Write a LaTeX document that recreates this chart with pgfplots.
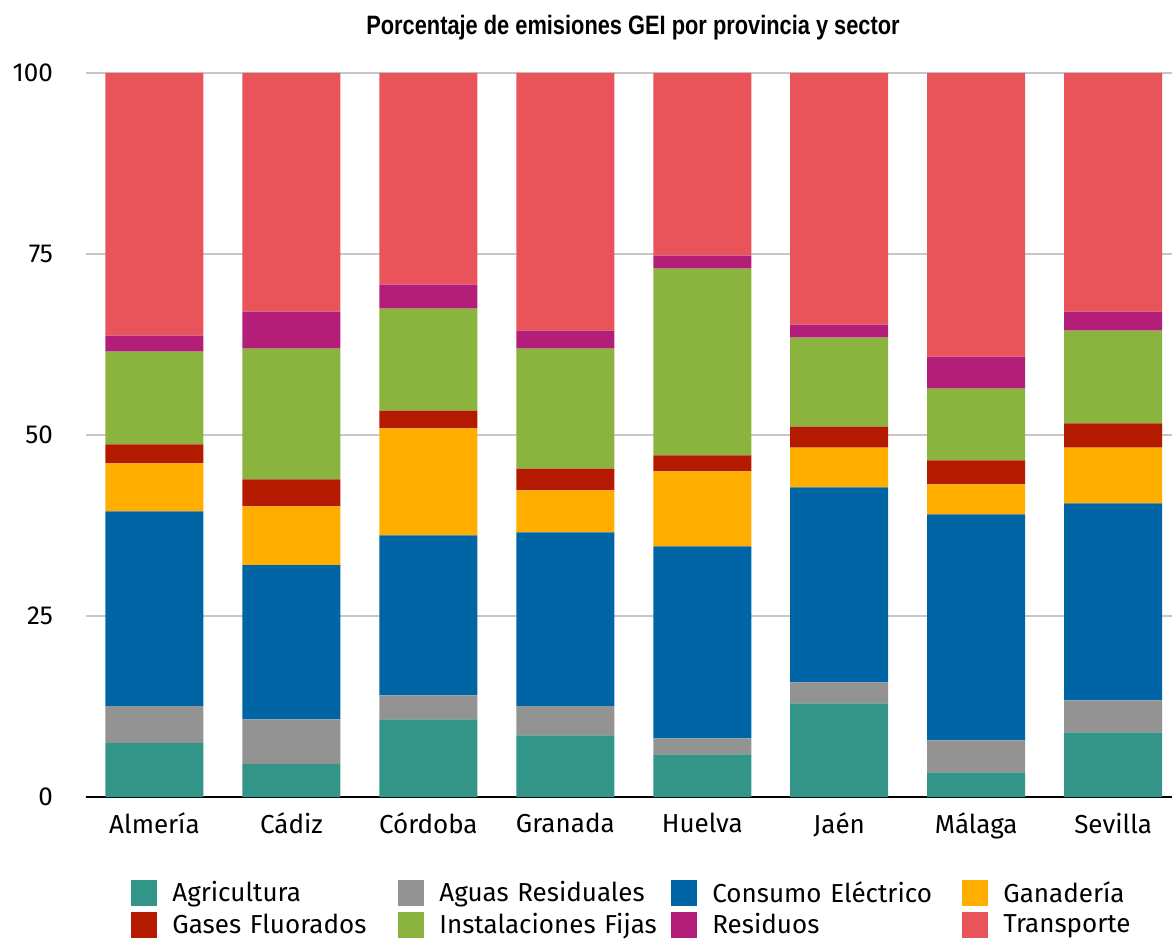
\documentclass[border=0pt]{standalone}
\usepackage{fontspec}
\setmainfont{Fira Sans}
\newfontfamily\titlefont[FakeStretch=0.82]{Liberation Sans}
\usepackage{pgfplots}
\usepackage{pgfplotstable}
\pgfplotsset{compat=1.18}

\definecolor{cAgri}{HTML}{339588}
\definecolor{cAguas}{HTML}{939393}
\definecolor{cCons}{HTML}{0065A4}
\definecolor{cGan}{HTML}{FFAE00}
\definecolor{cGases}{HTML}{B41A00}
\definecolor{cInst}{HTML}{8AB43E}
\definecolor{cRes}{HTML}{B21E78}
\definecolor{cTrans}{HTML}{E9545A}

\pgfplotstableread{
x Agri Aguas Cons Gan Gases Inst Res Trans
0 7.45 5.11 26.88 6.63 2.62 12.84 2.20 36.27
1 4.56 6.17 21.30 8.10 3.73 18.08 5.11 32.95
2 10.73 3.31 22.09 14.77 2.48 14.08 3.31 29.23
3 8.52 4.04 23.98 5.80 3.03 16.57 2.48 35.58
4 5.89 2.21 26.51 10.35 2.21 25.81 1.80 25.22
5 12.93 2.90 26.92 5.52 2.90 12.29 1.79 34.75
6 3.41 4.42 31.19 4.15 3.31 9.94 4.41 39.17
7 8.93 4.42 27.19 7.73 3.32 12.83 2.63 32.95
}\data

\pgfplotsset{sqlegend/.style={legend image code/.code={\fill[##1] (0pt,-6.5pt) rectangle (13pt,6.5pt);}}}

\begin{document}
\begin{tikzpicture}
\path[use as bounding box] (-43pt,-70.5pt) rectangle (543pt,398.5pt);
\begin{axis}[
  at={(0,0)}, anchor=south west,
  scale only axis, width=543pt, height=362pt,
  ybar stacked, bar width=49pt,
  xmin=-0.5, xmax=7.43, ymin=0, ymax=100,
  axis line style={draw=none},
  major tick length=0pt,
  ytick={0,25,50,75,100},
  xtick={0,1,2,3,4,5,6,7},
  xticklabels={Almería,Cádiz,Córdoba,Granada,Huelva,Jaén,Málaga,Sevilla},
  ymajorgrids, grid style={color=black!22, line width=0.8pt},
  /pgf/number format/assume math mode=true,
  ticklabel style={font=\fontsize{13}{15}\selectfont},
  yticklabel style={xshift=-13pt},
  xticklabel style={yshift=-4.5pt},
  legend columns=4,
  legend cell align=left,
  legend style={at={(0.04144,-0.1105)}, anchor=north west, draw=none, inner sep=0pt,
    font=\fontsize{13}{15}\selectfont,
    /tikz/every odd column/.append style={column sep=5.5pt},
    /tikz/column 2/.style={text width=111pt},
    /tikz/column 4/.style={text width=114pt},
    /tikz/column 6/.style={text width=123pt},
    /tikz/column 8/.style={text width=65pt},
    row sep=0pt},
]
\addplot[fill=cAgri, draw=none, sqlegend] table[x=x,y=Agri] {\data};
\addlegendentry{Agricultura}
\addplot[fill=cAguas, draw=none, sqlegend] table[x=x,y=Aguas] {\data};
\addlegendentry{Aguas Residuales}
\addplot[fill=cCons, draw=none, sqlegend] table[x=x,y=Cons] {\data};
\addlegendentry{Consumo Eléctrico}
\addplot[fill=cGan, draw=none, sqlegend] table[x=x,y=Gan] {\data};
\addlegendentry{Ganadería}
\addplot[fill=cGases, draw=none, sqlegend] table[x=x,y=Gases] {\data};
\addlegendentry{Gases Fluorados}
\addplot[fill=cInst, draw=none, sqlegend] table[x=x,y=Inst] {\data};
\addlegendentry{Instalaciones Fijas}
\addplot[fill=cRes, draw=none, sqlegend] table[x=x,y=Res] {\data};
\addlegendentry{Residuos}
\addplot[fill=cTrans, draw=none, sqlegend] table[x=x,y=Trans] {\data};
\addlegendentry{Transporte}
\draw[black, line width=1.5pt] (axis cs:-0.52,0) -- (axis cs:7.43,0);
\end{axis}
\node[font={\titlefont\bfseries\fontsize{13.3}{16}\selectfont}] at (273.5pt,384.5pt) {Porcentaje de emisiones GEI por provincia y sector};
\end{tikzpicture}
\end{document}
